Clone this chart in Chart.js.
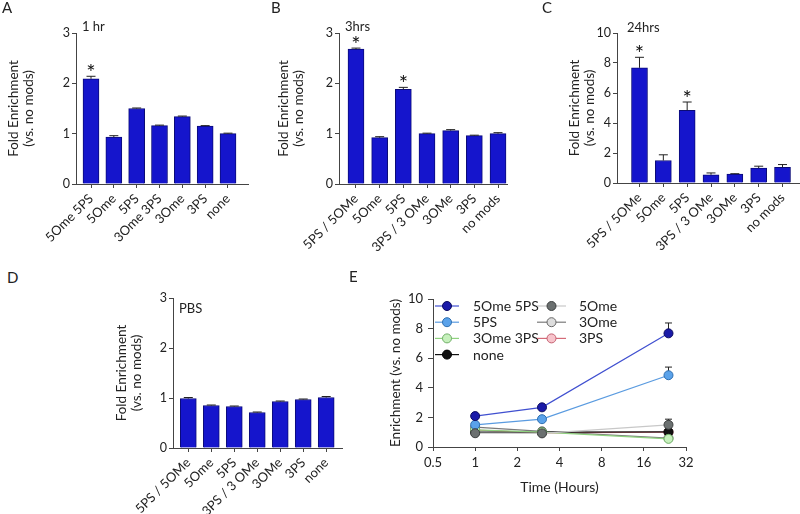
<!DOCTYPE html>
<html lang="en">
  <head>
    <meta charset="UTF-8" />
    <title>Fold Enrichment</title>
    <style>
      body {
        margin: 0;
        background: #fff;
        font-family: Lato, "Noto Sans", sans-serif;
      }
      #wrap {
        position: relative;
        width: 800px;
        height: 514px;
        overflow: hidden;
      }
      canvas {
        position: absolute;
      }
      .lbl {
        position: absolute;
        color: #222;
        font-size: 13px;
        line-height: 1;
        white-space: nowrap;
      }
      .panel {
        font-size: 15px;
      }
    </style>
  </head>
  <body>
    <div id="wrap">
      <canvas id="chartA" width="262" height="262" style="left: 0; top: 0"></canvas>
      <canvas id="chartB" width="250" height="262" style="left: 270px; top: 0"></canvas>
      <canvas id="chartC" width="239" height="262" style="left: 561px; top: 0"></canvas>
      <canvas id="chartD" width="244" height="244" style="left: 108px; top: 270px"></canvas>
      <canvas id="chartE" width="418" height="244" style="left: 382px; top: 270px"></canvas>

      <div class="lbl panel" style="left: 2px; top: 0">A</div>
      <div class="lbl panel" style="left: 271px; top: 0">B</div>
      <div class="lbl panel" style="left: 542px; top: 0">C</div>
      <div class="lbl panel" style="left: 7px; top: 270px">D</div>
      <div class="lbl panel" style="left: 349px; top: 269px">E</div>

      <div class="lbl" style="left: 82px; top: 20px">1 hr</div>
      <div class="lbl" style="left: 345px; top: 20px">3hrs</div>
      <div class="lbl" style="left: 627px; top: 21px">24hrs</div>
      <div class="lbl" style="left: 179px; top: 302px">PBS</div>
    </div>

    <script src="https://cdn.jsdelivr.net/npm/chart.js"></script>
    <script>
      // panel A - 1 hr
      const labelsA = ["5Ome 5PS", "5Ome", "5PS", "3Ome 3PS", "3Ome", "3PS", "none"];
      const valuesA = [2.09, 0.93, 1.5, 1.16, 1.34, 1.15, 1.0];
      const errorsA = [0.05, 0.03, 0.01, 0.01, 0.01, 0.01, 0.01];
      const starsA = [0];

      // panel B - 3 hrs
      const labelsB = ["5PS / 5OMe", "5Ome", "5PS", "3PS / 3 OMe", "3OMe", "3PS", "no mods"];
      const valuesB = [2.68, 0.92, 1.88, 1.0, 1.06, 0.96, 1.0];
      const errorsB = [0.02, 0.02, 0.04, 0.01, 0.02, 0.01, 0.02];
      const starsB = [0, 2];

      // panel C - 24 hrs
      const labelsC = ["5PS / 5OMe", "5Ome", "5PS", "3PS / 3 OMe", "3OMe", "3PS", "no mods"];
      const valuesC = [7.68, 1.5, 4.85, 0.55, 0.6, 1.0, 1.05];
      const errorsC = [0.7, 0.38, 0.55, 0.12, 0.02, 0.12, 0.18];
      const starsC = [0, 2];

      // panel D - PBS
      const labelsD = ["5PS / 5OMe", "5Ome", "5PS", "3PS / 3 OMe", "3OMe", "3PS", "none"];
      const valuesD = [0.99, 0.85, 0.83, 0.71, 0.93, 0.97, 1.01];
      const errorsD = [0.02, 0.01, 0.01, 0.01, 0.01, 0.01, 0.02];
      const starsD = [];

      // panel E - time course
      const hoursE = [1, 3, 24];
      const xTicksE = [0.5, 1, 2, 4, 8, 16, 32];
      const e5Ome5PS = [2.09, 2.68, 7.68];
      const err5Ome5PS = [0.05, 0.02, 0.7];
      const e5PS = [1.5, 1.88, 4.85];
      const err5PS = [0.01, 0.04, 0.55];
      const e3Ome3PS = [1.16, 1.0, 0.55];
      const err3Ome3PS = [0.01, 0.01, 0.12];
      const eNone = [1.0, 1.0, 1.02];
      const errNone = [0.01, 0.02, 0.1];
      const e5Ome = [0.93, 0.92, 1.5];
      const err5Ome = [0.03, 0.02, 0.38];
      const e3Ome = [1.34, 1.06, 0.6];
      const err3Ome = [0.01, 0.02, 0.02];
      const e3PS = [1.15, 0.96, 1.0];
      const err3PS = [0.01, 0.01, 0.12];

      const AXIS = "#444";
      const TEXT = "#222";
      Chart.defaults.font.family = "Lato, 'Noto Sans', sans-serif";
      Chart.defaults.color = TEXT;

      // upward-only error bars, GraphPad style
      const errorBars = {
        id: "errorBars",
        draw(chart) {
          const ctx = chart.ctx;
          const yScale = chart.scales.y;
          const cap = chart.config.type === "bar" ? 9 : 7;
          chart.data.datasets.forEach((ds, di) => {
            if (!ds.errors) return;
            const meta = chart.getDatasetMeta(di);
            meta.data.forEach((el, i) => {
              const v = ds.data[i].y;
              const top = yScale.getPixelForValue(v + ds.errors[i]);
              ctx.save();
              ctx.strokeStyle = "#222";
              ctx.lineWidth = 1;
              ctx.beginPath();
              ctx.moveTo(el.x, el.y);
              ctx.lineTo(el.x, top);
              ctx.moveTo(el.x - cap / 2, top);
              ctx.lineTo(el.x + cap / 2, top);
              ctx.stroke();
              ctx.restore();
            });
          });
        },
        beforeDatasetsDraw(chart) {
          if (chart.config.type === "line") this.draw(chart);
        },
        afterDatasetsDraw(chart) {
          if (chart.config.type === "bar") this.draw(chart);
        },
      };

      const starMarks = {
        id: "starMarks",
        afterDatasetsDraw(chart) {
          const ctx = chart.ctx;
          const yScale = chart.scales.y;
          chart.data.datasets.forEach((ds, di) => {
            if (!ds.stars) return;
            const meta = chart.getDatasetMeta(di);
            ds.stars.forEach((i) => {
              const el = meta.data[i];
              const top = yScale.getPixelForValue(ds.data[i].y + ds.errors[i]);
              ctx.save();
              ctx.fillStyle = "#111";
              ctx.font = "22px Lato";
              ctx.textAlign = "center";
              ctx.textBaseline = "alphabetic";
              ctx.fillText("*", el.x, top + 4);
              ctx.restore();
            });
          });
        },
      };

      const barPanel = (id, labels, values, errors, stars, o) =>
        new Chart(document.getElementById(id), {
          type: "bar",
          data: {
            datasets: [
              {
                data: values.map((v, i) => ({ x: i, y: v })),
                errors: errors,
                stars: stars,
                backgroundColor: "#1515cc",
                borderColor: "#0b0b78",
                borderWidth: 1,
                barThickness: 16,
              },
            ],
          },
          options: {
            responsive: false,
            animation: false,
            layout: { padding: { top: o.top, right: o.right, left: 0, bottom: 0 } },
            plugins: { legend: { display: false }, tooltip: { enabled: false } },
            scales: {
              x: {
                type: "linear",
                min: o.xMin,
                max: o.xMax,
                offset: false,
                afterFit: (s) => {
                  s.height = o.xHeight;
                },
                afterBuildTicks: (s) => {
                  s.ticks = labels.map((_, i) => ({ value: i }));
                },
                grid: { offset: false, drawOnChartArea: false, color: AXIS, tickLength: 4 },
                border: { color: AXIS },
                ticks: {
                  autoSkip: false,
                  minRotation: 45,
                  maxRotation: 45,
                  padding: 3,
                  color: TEXT,
                  font: { size: 13 },
                  callback: (v) => labels[v],
                },
              },
              y: {
                min: 0,
                max: o.yMax,
                afterFit: (s) => {
                  s.width = o.yWidth;
                },
                grid: { drawOnChartArea: false, color: AXIS, tickLength: 4 },
                border: { color: AXIS },
                ticks: { stepSize: o.yStep, padding: 2, color: TEXT, font: { size: 12.5 } },
                title: {
                  display: true,
                  text: ["Fold Enrichment", "(vs. no mods)"],
                  color: TEXT,
                  font: { size: 13.5, lineHeight: 1.05 },
                  padding: { top: 7, bottom: 0 },
                },
              },
            },
          },
          plugins: [errorBars, starMarks],
        });

      barPanel("chartA", labelsA, valuesA, errorsA, starsA, {
        top: 33, right: 14, xHeight: 78, yWidth: 76, xMin: -0.657, xMax: 6.876, yMax: 3, yStep: 1,
      });
      barPanel("chartB", labelsB, valuesB, errorsB, starsB, {
        top: 33, right: 13, xHeight: 78, yWidth: 69, xMin: -0.718, xMax: 6.38, yMax: 3, yStep: 1,
      });
      barPanel("chartC", labelsC, valuesC, errorsC, starsC, {
        top: 33, right: 1, xHeight: 79, yWidth: 56, xMin: -0.944, xMax: 6.692, yMax: 10, yStep: 2,
      });
      barPanel("chartD", labelsD, valuesD, errorsD, starsD, {
        top: 28, right: 10, xHeight: 66, yWidth: 65, xMin: -0.666, xMax: 6.688, yMax: 3, yStep: 1,
      });

      // legend of panel E, two columns inside the plot
      const legendE = {
        id: "legendE",
        afterDraw(chart) {
          const { ctx, chartArea } = chart;
          const cols = [
            { line: 2, len: 24, text: 40 },
            { line: 104, len: 29, text: 146 },
          ];
          chart.data.datasets.forEach((ds, i) => {
            const c = cols[i < 4 ? 0 : 1];
            const row = i < 4 ? i : i - 4;
            const x0 = chartArea.left + c.line;
            const y0 = chartArea.top + 7 + row * 16.2;
            ctx.save();
            ctx.strokeStyle = ds.borderColor;
            ctx.lineWidth = 1.2;
            ctx.beginPath();
            ctx.moveTo(x0, y0);
            ctx.lineTo(x0 + c.len, y0);
            ctx.stroke();
            ctx.beginPath();
            ctx.arc(x0 + c.len / 2, y0, 4.5, 0, Math.PI * 2);
            ctx.fillStyle = ds.pointBackgroundColor;
            ctx.fill();
            ctx.strokeStyle = ds.pointBorderColor;
            ctx.lineWidth = 1;
            ctx.stroke();
            ctx.fillStyle = TEXT;
            ctx.font = "14px Lato";
            ctx.textBaseline = "middle";
            ctx.fillText(ds.label, chartArea.left + c.text, y0 + 0.5);
            ctx.restore();
          });
        },
      };

      const series = (label, values, errors, line, fill, edge, extra) => ({
        label: label,
        data: hoursE.map((h, i) => ({ x: h, y: values[i] })),
        errors: errors,
        borderColor: line,
        pointBackgroundColor: fill,
        pointBorderColor: edge,
        borderWidth: 1.2,
        pointRadius: 4.5,
        pointBorderWidth: 1,
        ...extra,
      });

      new Chart(document.getElementById("chartE"), {
        type: "line",
        data: {
          datasets: [
            series("5Ome 5PS", e5Ome5PS, err5Ome5PS, "#4050d0", "#1a1aa8", "#0c0c60"),
            series("5PS", e5PS, err5PS, "#5a9be0", "#5aa2ea", "#2f6fb0"),
            series("3Ome 3PS", e3Ome3PS, err3Ome3PS, "#8fd27f", "#c6f0bc", "#6fae66"),
            series("none", eNone, errNone, "#111", "#111", "#000"),
            series("5Ome", e5Ome, err5Ome, "#c8c8c8", "#6b7070", "#3c3f3f", { order: -1 }),
            series("3Ome", e3Ome, err3Ome, "#7a7a7a", "#dddddd", "#666"),
            series("3PS", e3PS, err3PS, "#d46a78", "#f7c4cc", "#c46070"),
          ],
        },
        options: {
          responsive: false,
          animation: false,
          layout: { padding: { top: 29, right: 114, left: 0, bottom: 0 } },
          plugins: { legend: { display: false }, tooltip: { enabled: false } },
          scales: {
            x: {
              type: "logarithmic",
              min: 0.5,
              max: 32,
              afterFit: (s) => {
                s.height = 67;
              },
              afterBuildTicks: (s) => {
                s.ticks = xTicksE.map((v) => ({ value: v }));
              },
              grid: { drawOnChartArea: false, color: AXIS, tickLength: 4 },
              border: { color: AXIS },
              ticks: {
                autoSkip: false,
                maxRotation: 0,
                padding: 4,
                color: TEXT,
                font: { size: 13 },
                callback: (v) => String(v),
              },
              title: {
                display: true,
                text: "Time (Hours)",
                color: TEXT,
                font: { size: 14, lineHeight: 1.1 },
                padding: { top: 0, bottom: 19 },
              },
            },
            y: {
              min: 0,
              max: 10,
              afterFit: (s) => {
                s.width = 51;
              },
              grid: { drawOnChartArea: false, color: AXIS, tickLength: 5 },
              border: { color: AXIS },
              ticks: { stepSize: 2, padding: 5, color: TEXT, font: { size: 13 } },
              title: {
                display: true,
                text: "Enrichment (vs. no mods)",
                color: TEXT,
                font: { size: 13.5, lineHeight: 1.05 },
                padding: { top: 7, bottom: 0 },
              },
            },
          },
        },
        plugins: [errorBars, legendE],
      });
    </script>
  </body>
</html>
